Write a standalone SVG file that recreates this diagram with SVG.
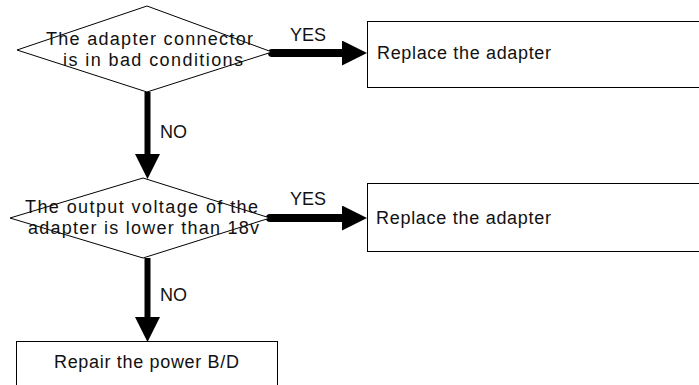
<svg xmlns="http://www.w3.org/2000/svg" width="699" height="385" viewBox="0 0 699 385">
  <style>
    .shape { fill: #ffffff; stroke: #000000; stroke-width: 1; }
    .lbl { font-family: "Liberation Sans", Arial, sans-serif; font-size: 18px; fill: #111111; }
    .arrow { stroke: #000000; fill: none; marker-end: url(#head); }
    .h { stroke-width: 8; stroke-linecap: round; }
    .v { stroke-width: 6; }
  </style>
  <defs>
    <marker id="head" viewBox="0 0 25 25" refX="0" refY="12.5" markerUnits="userSpaceOnUse" markerWidth="25" markerHeight="25" orient="auto">
      <path d="M0,0 L25,12.5 L0,25 Z" fill="#000000"/>
    </marker>
  </defs>
  <rect width="699" height="385" fill="#ffffff"/>

  <g id="connectors">
    <line class="arrow h" x1="272" y1="53" x2="342" y2="53"/>
    <text class="lbl" x="290" y="41">YES</text>
    <line class="arrow v" x1="147.5" y1="92" x2="147.5" y2="154"/>
    <text class="lbl" x="160" y="138">NO</text>
    <line class="arrow h" x1="270" y1="218" x2="342" y2="218"/>
    <text class="lbl" x="290" y="205">YES</text>
    <line class="arrow v" x1="147.5" y1="258" x2="147.5" y2="317"/>
    <text class="lbl" x="160" y="301">NO</text>
  </g>

  <g id="decision1">
    <polygon class="shape" points="147,6 272,52 147,92 17,50"/>
    <text class="lbl" x="46" y="45" textLength="207" lengthAdjust="spacing">The adapter connector</text>
    <text class="lbl" x="63" y="66" textLength="180" lengthAdjust="spacing">is in bad conditions</text>
  </g>

  <g id="action1">
    <rect class="shape" x="367.5" y="21.5" width="340" height="66"/>
    <text class="lbl" x="377" y="59" textLength="174" lengthAdjust="spacing">Replace the adapter</text>
  </g>

  <g id="decision2">
    <polygon class="shape" points="143,178 270,218 143,258 10,218"/>
    <text class="lbl" x="25" y="213" textLength="233" lengthAdjust="spacing">The output voltage of the</text>
    <text class="lbl" x="28" y="234" textLength="231" lengthAdjust="spacing">adapter is lower than 18v</text>
  </g>

  <g id="action2">
    <rect class="shape" x="367.5" y="183.5" width="340" height="68"/>
    <text class="lbl" x="376" y="224" textLength="175" lengthAdjust="spacing">Replace the adapter</text>
  </g>

  <g id="action3">
    <rect class="shape" x="16.5" y="341.5" width="261" height="60"/>
    <text class="lbl" x="54" y="368" textLength="185" lengthAdjust="spacing">Repair the power B/D</text>
  </g>
</svg>
